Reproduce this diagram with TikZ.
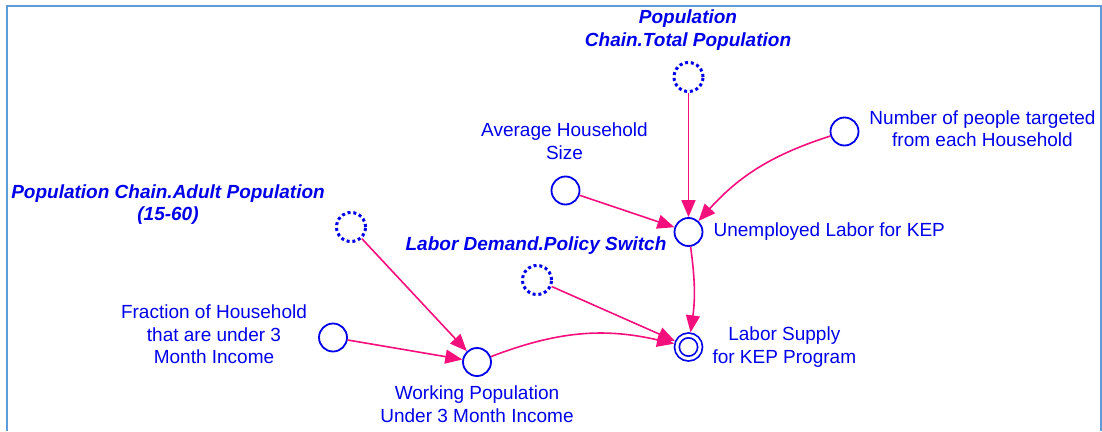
\documentclass[tikz,border=0pt]{standalone}
\usepackage{fontspec}
\setmainfont{Liberation Sans}
\usetikzlibrary{positioning, arrows.meta}
\definecolor{azul}{RGB}{0,0,235}
\definecolor{enlace}{RGB}{245,15,125}
\definecolor{marco}{RGB}{95,155,215}

\begin{document}
\begin{tikzpicture}[x=1pt, y=1pt,
    aux/.style={circle, draw=azul, line width=1.8pt, minimum size=28pt, inner sep=0pt},
    sombra/.style={circle, draw=azul, line width=3pt, dash pattern=on 3pt off 2.8pt, minimum size=29pt, inner sep=0pt},
    nivel/.style={circle, draw=azul, line width=1.7pt, double, double distance=3pt, minimum size=23.2pt, inner sep=0pt, outer sep=3.2pt},
    etiqueta/.style={text=azul, font=\fontsize{19}{22.5}\selectfont, align=center, inner sep=0pt},
    fantasma/.style={etiqueta, font=\fontsize{19}{22.5}\selectfont\bfseries\itshape},
    flecha/.style={-{Triangle[length=17pt, width=14pt]}, draw=enlace, line width=1.6pt}]
            \useasboundingbox (0,0) rectangle (1102,-431);
            % Marco del diagrama
            \draw[marco, line width=2pt] (7,-431) -- (7,-6) -- (1101,-6) -- (1101,-431);
            
            % Variables auxiliares y sombras
            \node[sombra] (totpop) at (688.5,-77) {};
            \node[aux] (avgsize) at (565.5,-190.5) {};
            \node[aux] (numpeople) at (844.5,-131.5) {};
            \node[aux] (unemp) at (688.5,-232) {};
            \node[sombra] (adultpop) at (351,-227) {};
            \node[sombra] (policy) at (537,-280) {};
            \node[aux] (fraction) at (333,-337.5) {};
            \node[aux] (working) at (477,-362) {};
            \node[nivel] (supply) at (688.5,-347) {};
            
            % Etiquetas
            \node[fantasma] (totpoplbl) at (688,-30) {Population\\Chain.Total Population};
            \node[etiqueta] (avglbl) at (564.5,-141) {Average Household\\Size};
            \node[etiqueta] (numlbl) at (982.5,-128.5) {Number of people targeted\\from each Household};
            \node[etiqueta, right=10pt of unemp] (unemplbl) {Unemployed Labor for KEP};
            \node[etiqueta, right=9pt of supply] (supplylbl) {Labor Supply\\for KEP Program};
            \node[fantasma, anchor=base] (policylbl) at (536,-250) {Labor Demand.Policy Switch};
            \node[fantasma] (adultlbl) at (168,-204.5) {Population Chain.Adult Population\\(15-60)};
            \node[etiqueta] (fraclbl) at (214,-334.5) {Fraction of Household\\that are under 3\\Month Income};
            \node[etiqueta, below=9pt of working] (worklbl) {Working Population\\Under 3 Month Income};
            
            % Conexiones
            \draw[flecha] (totpop) -- (unemp);
            \draw[flecha] (avgsize) -- (unemp);
            \draw[flecha] (numpeople) to[bend right=15] (unemp);
            \draw[flecha] (unemp) to[bend left=8] (supply);
            \draw[flecha] (policy) -- (supply);
            \draw[flecha] (working) to[bend left=17] (supply);
            \draw[flecha] (adultpop) -- (working);
            \draw[flecha] (fraction) -- (working);
        \end{tikzpicture}
\end{document}
